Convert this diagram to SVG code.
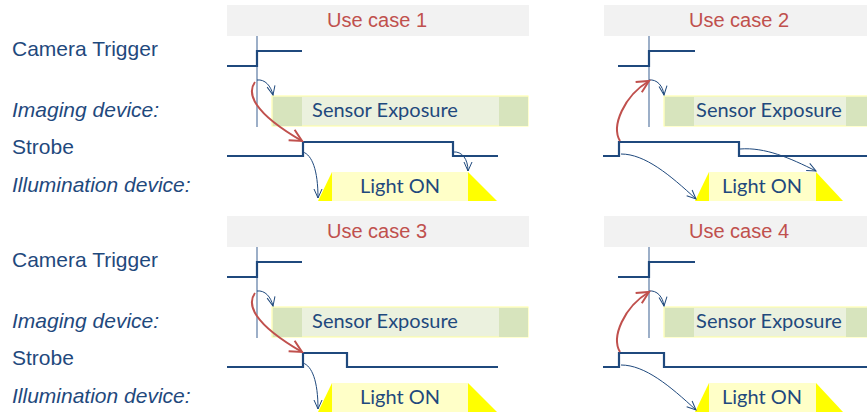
<svg xmlns="http://www.w3.org/2000/svg" width="867" height="415" viewBox="0 0 867 415">
<style>
.hdr{fill:#f2f2f2}
.hdrt{font-family:"Liberation Sans",Arial,sans-serif;font-size:20px;fill:#c0504d;text-anchor:middle}
.lbl{font-family:"Liberation Sans",Arial,sans-serif;font-size:21px;fill:#1f497d}
.it{font-style:italic}
.sig{fill:none;stroke:#1f497d;stroke-width:2.2}
.vl{fill:none;stroke:#5b7aa3;stroke-width:1.2}
.exp{fill:#ebf1de;stroke:#ffffa0;stroke-width:1}
.expd{fill:#d7e4bd}
.ct{font-family:Lato,"Open Sans",sans-serif;font-size:20px;fill:#1f497d;text-anchor:middle}
.lon{fill:#ffffc8}
.tri{fill:#ffff00}
.ab{fill:none;stroke:#1f497d;stroke-width:1}
.ar{fill:none;stroke:#c0504d;stroke-width:2}
</style>
<defs>
<marker id="mb" markerWidth="12" markerHeight="12" refX="10" refY="5" orient="auto" markerUnits="userSpaceOnUse" viewBox="0 0 12 10">
<path d="M1,1 L10,5 L1,9" fill="none" stroke="#1f497d" stroke-width="1"/>
</marker>
<marker id="mr" markerWidth="16" markerHeight="16" refX="13" refY="7" orient="auto" markerUnits="userSpaceOnUse" viewBox="0 0 16 14">
<path d="M1,1 L13,7 L1,13" fill="none" stroke="#c0504d" stroke-width="2"/>
</marker>
</defs>

<g id="labels">
<text class="lbl" x="12" y="56">Camera Trigger</text>
<text class="lbl it" x="12" y="117">Imaging device:</text>
<text class="lbl" x="12" y="154">Strobe</text>
<text class="lbl it" x="12" y="192">Illumination device:</text>
<text class="lbl" x="12" y="267">Camera Trigger</text>
<text class="lbl it" x="12" y="328">Imaging device:</text>
<text class="lbl" x="12" y="365">Strobe</text>
<text class="lbl it" x="12" y="403">Illumination device:</text>
</g>

<!-- Use case 1 -->
<g id="uc1-header"><rect class="hdr" x="227" y="5" width="302" height="31"/><text class="hdrt" x="377" y="27">Use case 1</text></g>
<g id="uc1-trigger"><line class="vl" x1="257" y1="36" x2="257" y2="127"/><path class="sig" d="M227,66 H257 V51 H302"/></g>
<g id="uc1-exposure"><rect class="exp" x="272" y="96" width="256" height="30"/><rect class="expd" x="273" y="97" width="29" height="29"/><rect class="expd" x="499" y="97" width="29" height="29"/><text class="ct" x="385" y="117">Sensor Exposure</text></g>
<g id="uc1-strobe"><path class="sig" d="M227,156 H303 V142 H453 V156 H498"/></g>
<g id="uc1-light"><rect class="lon" x="332" y="172" width="136" height="29"/><path class="tri" d="M318,201 L332,172 V201 Z"/><path class="tri" d="M468,172 L497,201 H468 Z"/><text class="ct" x="400" y="193">Light ON</text></g>

<!-- Use case 2 -->
<g id="uc2-header"><rect class="hdr" x="604" y="5" width="263" height="31"/><text class="hdrt" x="739" y="27">Use case 2</text></g>
<g id="uc2-trigger"><line class="vl" x1="649" y1="36" x2="649" y2="127"/><path class="sig" d="M618,66 H649 V51 H695"/></g>
<g id="uc2-exposure"><rect class="exp" x="664" y="96" width="210" height="30"/><rect class="expd" x="665" y="97" width="29" height="29"/><rect class="expd" x="846" y="97" width="29" height="29"/><text class="ct" x="769" y="117">Sensor Exposure</text></g>
<g id="uc2-strobe"><path class="sig" d="M603,156 H619 V142 H739 V156 H867"/></g>
<g id="uc2-light"><rect class="lon" x="709" y="172" width="107" height="29"/><path class="tri" d="M695,201 L709,172 V201 Z"/><path class="tri" d="M816,172 L843,201 H816 Z"/><text class="ct" x="762" y="193">Light ON</text></g>

<!-- Use case 3 -->
<g id="uc3-header"><rect class="hdr" x="227" y="216" width="302" height="31"/><text class="hdrt" x="377" y="238">Use case 3</text></g>
<g id="uc3-trigger"><line class="vl" x1="257" y1="247" x2="257" y2="338"/><path class="sig" d="M227,277 H257 V262 H302"/></g>
<g id="uc3-exposure"><rect class="exp" x="272" y="307" width="256" height="30"/><rect class="expd" x="273" y="308" width="29" height="29"/><rect class="expd" x="499" y="308" width="29" height="29"/><text class="ct" x="385" y="328">Sensor Exposure</text></g>
<g id="uc3-strobe"><path class="sig" d="M227,367 H303 V353 H347 V367 H498"/></g>
<g id="uc3-light"><rect class="lon" x="332" y="383" width="136" height="29"/><path class="tri" d="M318,412 L332,383 V412 Z"/><path class="tri" d="M468,383 L497,412 H468 Z"/><text class="ct" x="400" y="404">Light ON</text></g>

<!-- Use case 4 -->
<g id="uc4-header"><rect class="hdr" x="604" y="216" width="263" height="31"/><text class="hdrt" x="739" y="238">Use case 4</text></g>
<g id="uc4-trigger"><line class="vl" x1="649" y1="247" x2="649" y2="338"/><path class="sig" d="M618,277 H649 V262 H695"/></g>
<g id="uc4-exposure"><rect class="exp" x="664" y="307" width="210" height="30"/><rect class="expd" x="665" y="308" width="29" height="29"/><rect class="expd" x="846" y="308" width="29" height="29"/><text class="ct" x="769" y="328">Sensor Exposure</text></g>
<g id="uc4-strobe"><path class="sig" d="M603,367 H619 V353 H664 V367 H867"/></g>
<g id="uc4-light"><rect class="lon" x="709" y="383" width="107" height="29"/><path class="tri" d="M695,412 L709,383 V412 Z"/><path class="tri" d="M816,383 L843,412 H816 Z"/><text class="ct" x="762" y="404">Light ON</text></g>

<g id="connectors">
<!-- UC1 -->
<path class="ab" d="M257,80 C265,79 271,86 273,95" marker-end="url(#mb)"/>
<path class="ar" d="M255,82 C247,93 252,112 302,141" marker-end="url(#mr)"/>
<path class="ab" d="M303,152 C312,155 318,170 318,198" marker-end="url(#mb)"/>
<path class="ab" d="M453,152 C462,151 468,159 468,171" marker-end="url(#mb)"/>
<!-- UC2 -->
<path class="ab" d="M649,80 C657,79 663,86 664,95" marker-end="url(#mb)"/>
<path class="ar" d="M620,141 C611,126 624,96 649,81" marker-end="url(#mr)"/>
<path class="ab" d="M621,154 C645,154 670,175 696,199" marker-end="url(#mb)"/>
<path class="ab" d="M740,149 C765,147 790,158 816,171" marker-end="url(#mb)"/>
<!-- UC3 -->
<path class="ab" d="M257,291 C265,290 271,297 273,306" marker-end="url(#mb)"/>
<path class="ar" d="M255,293 C247,304 252,323 302,352" marker-end="url(#mr)"/>
<path class="ab" d="M303,363 C312,366 318,381 318,409" marker-end="url(#mb)"/>
<!-- UC4 -->
<path class="ab" d="M649,291 C657,290 663,297 664,306" marker-end="url(#mb)"/>
<path class="ar" d="M620,352 C611,337 624,307 649,292" marker-end="url(#mr)"/>
<path class="ab" d="M621,365 C645,365 670,386 696,410" marker-end="url(#mb)"/>
</g>
</svg>
